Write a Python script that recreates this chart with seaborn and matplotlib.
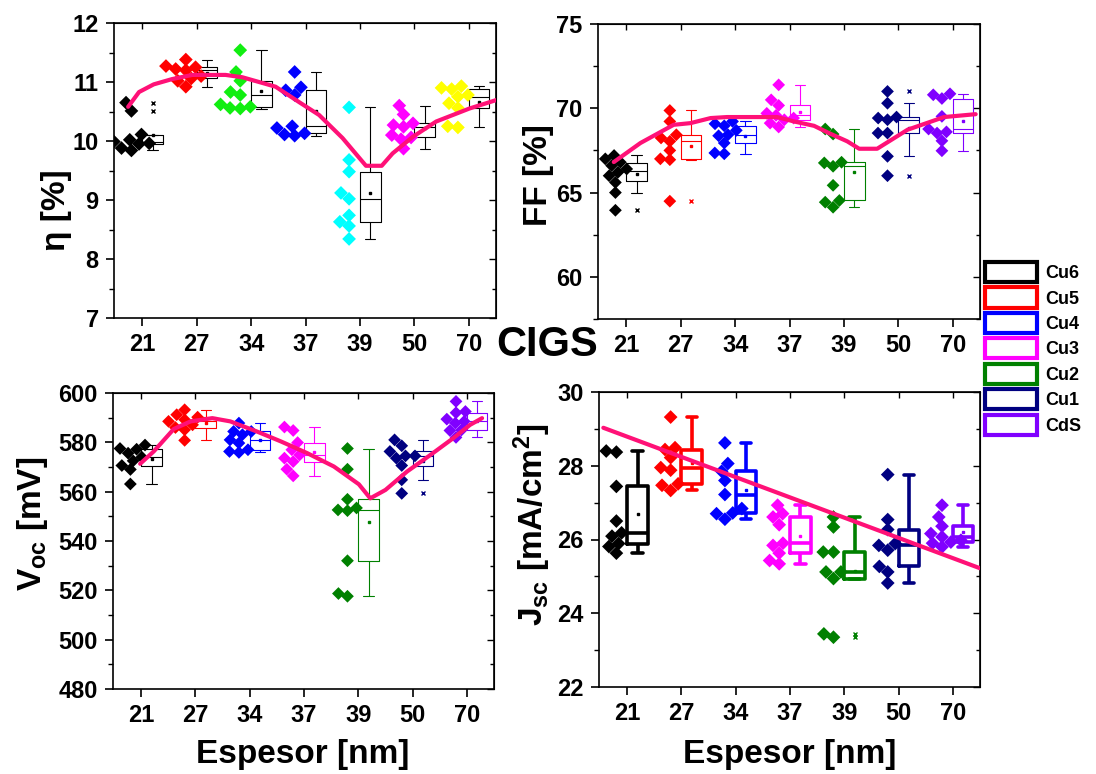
import matplotlib

matplotlib.use("Agg")
import matplotlib.pyplot as plt
import pandas as pd
import seaborn as sns
from matplotlib.patches import Patch
from matplotlib.ticker import MultipleLocator, NullFormatter

# ------------------------------------------------------------------ #
# Data
# ------------------------------------------------------------------ #
thickness = ["21", "27", "34", "37", "39", "50", "70"]
samples = ["Cu6", "Cu5", "Cu4", "Cu3", "Cu2", "Cu1", "CdS"]

sample_colors = ["#000000", "#FF0000", "#0000FF", "#FF00FF", "#008000", "#000080", "#8000FF"]
eta_colors = ["#000000", "#FF0000", "#11EE11", "#0000FF", "#00FFFF", "#FF00FF", "#FFFF00"]

eta = [
    [10.65, 10.51, 10.11, 10.02, 9.99, 9.96, 9.95, 9.88, 9.84],
    [11.38, 11.27, 11.25, 11.22, 11.20, 11.10, 11.06, 11.02, 10.92],
    [11.54, 11.17, 11.02, 10.83, 10.78, 10.62, 10.58, 10.56, 10.55],
    [11.17, 10.91, 10.86, 10.78, 10.25, 10.22, 10.13, 10.11, 10.09],
    [10.57, 9.68, 9.48, 9.12, 9.02, 8.74, 8.63, 8.56, 8.34],
    [10.60, 10.45, 10.30, 10.27, 10.24, 10.10, 10.06, 10.03, 9.87],
    [10.93, 10.90, 10.88, 10.78, 10.75, 10.64, 10.56, 10.25, 10.23],
]
ff = [
    [67.2, 67.0, 66.8, 66.6, 66.4, 66.2, 66.0, 65.6, 65.0, 63.95],
    [69.87, 69.22, 68.43, 68.24, 68.04, 67.5, 67.0, 66.95, 64.49],
    [69.22, 69.08, 68.96, 68.69, 68.43, 68.37, 67.94, 67.35, 67.3],
    [71.39, 70.5, 70.17, 69.7, 69.58, 69.42, 69.32, 69.12, 68.89],
    [68.77, 68.47, 66.8, 66.76, 66.56, 65.43, 64.53, 64.43, 64.13],
    [71.0, 70.3, 69.48, 69.42, 69.32, 68.53, 68.53, 67.15, 66.0],
    [70.86, 70.8, 70.58, 69.52, 68.77, 68.6, 68.53, 68.07, 67.48],
]
voc = [
    [578.9, 577.5, 577.2, 575.6, 574.0, 572.5, 570.6, 569.0, 563.1],
    [593.2, 591.2, 590.2, 589.2, 588.5, 587.1, 586.0, 585.1, 580.8],
    [587.8, 584.4, 584.4, 583.1, 581.0, 579.7, 577.0, 576.3, 575.9],
    [586.2, 584.8, 579.9, 577.0, 574.9, 573.6, 572.2, 569.1, 566.4],
    [577.5, 569.1, 556.9, 553.4, 552.6, 552.3, 532.0, 518.7, 517.6],
    [581.0, 578.6, 576.3, 574.5, 574.5, 573.6, 570.6, 564.8, 559.3],
    [596.6, 592.5, 592.0, 589.4, 588.5, 587.8, 585.0, 584.8, 582.0],
]
jsc = [
    [28.4, 28.37, 27.44, 26.5, 26.18, 26.09, 25.89, 25.81, 25.63],
    [29.32, 28.49, 28.44, 28.22, 27.95, 27.88, 27.51, 27.47, 27.33],
    [28.62, 28.06, 27.85, 27.6, 27.22, 26.84, 26.72, 26.7, 26.55],
    [26.93, 26.7, 26.61, 26.4, 25.9, 25.84, 25.63, 25.43, 25.34],
    [26.61, 26.34, 25.66, 25.66, 25.12, 25.12, 24.94, 23.44, 23.35],
    [27.76, 26.54, 26.27, 25.89, 25.84, 25.71, 25.27, 25.12, 24.82],
    [26.93, 26.61, 26.36, 26.16, 26.07, 25.98, 25.93, 25.9, 25.8],
]

# trend lines (x in category units)
eta_fit_x = [-0.26, -0.06, 0.21, 0.55, 0.92, 1.53, 1.84, 2.45, 2.88, 3.25, 3.68, 4.11, 4.40, 4.60, 4.97, 5.40, 6.01, 6.56]
eta_fit_y = [10.58, 10.83, 10.96, 11.05, 11.12, 11.12, 11.08, 10.92, 10.66, 10.44, 10.05, 9.58, 9.58, 9.79, 10.07, 10.33, 10.55, 10.71]
ff_fit_x = [-0.23, 0.26, 0.87, 1.18, 1.55, 1.85, 2.77, 3.08, 3.45, 3.75, 4.06, 4.28, 4.61, 5.17, 5.84, 6.42]
ff_fit_y = [66.81, 67.94, 69.02, 69.12, 69.42, 69.48, 69.48, 69.22, 68.96, 68.49, 68.04, 67.6, 67.6, 68.73, 69.48, 69.65]
voc_fit_x = [-0.02, 0.23, 0.6, 0.91, 1.31, 1.64, 2.13, 2.57, 3.06, 3.55, 4.01, 4.22, 4.5, 4.9, 5.33, 5.75, 6.06, 6.28]
voc_fit_y = [571.3, 576.3, 585.4, 588.5, 589.8, 588.5, 584.4, 580.4, 575.6, 570.2, 563.0, 557.3, 560.7, 568.2, 574.9, 581.7, 587.1, 589.8]
jsc_fit_x = [-0.44, 6.5]
jsc_fit_y = [29.03, 25.22]

PINK = "#FF1177"
DOT_SHIFT = -0.2
BOX_SHIFT = 0.19
W, H = 1096, 774

sns.set_style("ticks")
plt.rcParams["font.family"] = ["Liberation Sans", "DejaVu Sans"]
plt.rcParams["font.weight"] = "bold"
plt.rcParams["text.color"] = "black"
plt.rcParams["axes.labelcolor"] = "black"
plt.rcParams["axes.edgecolor"] = "black"
plt.rcParams["xtick.color"] = "black"
plt.rcParams["ytick.color"] = "black"
plt.rcParams["mathtext.fontset"] = "custom"
plt.rcParams["mathtext.rm"] = "Liberation Sans:bold"
plt.rcParams["mathtext.it"] = "Liberation Sans:bold"
plt.rcParams["mathtext.bf"] = "Liberation Sans:bold"


def add_axes_px(fig, left, top, right, bottom):
    return fig.add_axes([left / W, 1 - bottom / H, (right - left) / W, (bottom - top) / H])


def draw_panel(ax, values, dot_colors, box_colors, fit_x, fit_y, ylim, major, minor,
               box_lw=0.8, dot_size=6.5):
    rows = [(i + DOT_SHIFT, i + BOX_SHIFT, samples[i], v)
            for i, grp in enumerate(values) for v in grp]
    df = pd.DataFrame(rows, columns=["dot_x", "box_x", "sample", "value"])

    sns.swarmplot(data=df, x="dot_x", y="value", hue="sample", hue_order=samples,
                  palette=dict(zip(samples, dot_colors)), native_scale=True,
                  marker="D", size=dot_size, linewidth=0, legend=False, ax=ax)
    for i, name in enumerate(samples):
        c = box_colors[i]
        sns.boxplot(data=df[df["sample"] == name], x="box_x", y="value", native_scale=True,
                    width=0.38, color=c, fill=False, linewidth=box_lw, showmeans=True,
                    meanprops=dict(marker="s", markersize=2, markerfacecolor=c, markeredgecolor=c),
                    flierprops=dict(marker="x", markersize=3, markeredgecolor=c),
                    ax=ax)
    sns.lineplot(x=fit_x, y=fit_y, color=PINK, linewidth=3, ax=ax, zorder=5)

    ax.set_xlim(-0.52, 6.5)
    ax.set_ylim(*ylim)
    ax.set_xticks(range(len(thickness)), labels=thickness)
    ax.yaxis.set_major_locator(MultipleLocator(major))
    ax.yaxis.set_minor_locator(MultipleLocator(minor))
    ax.set_xlabel("")
    ax.set_ylabel("")
    ax.tick_params(which="major", direction="out", length=6, width=1.2, labelsize=17, pad=5)
    ax.tick_params(which="minor", direction="out", length=3.5, width=1)
    ax.tick_params(axis="x", which="minor", bottom=False)
    for sp in ax.spines.values():
        sp.set_visible(True)
        sp.set_linewidth(1.2)

    top = ax.secondary_xaxis("top")
    top.set_xticks(range(len(thickness)), labels=[])
    top.tick_params(direction="in", length=4, width=1)
    right = ax.secondary_yaxis("right")
    right.yaxis.set_major_locator(MultipleLocator(major))
    right.yaxis.set_minor_locator(MultipleLocator(minor))
    right.yaxis.set_major_formatter(NullFormatter())
    right.tick_params(which="major", direction="in", length=5, width=1)
    right.tick_params(which="minor", direction="in", length=3, width=1)


fig = plt.figure(figsize=(W / 100, H / 100), dpi=100)
fig.patch.set_facecolor("white")

ax_eta = add_axes_px(fig, 114, 23, 496, 318)
ax_ff = add_axes_px(fig, 598, 24, 980, 319)
ax_voc = add_axes_px(fig, 113, 393, 494, 689)
ax_jsc = add_axes_px(fig, 599, 392, 980, 687)

draw_panel(ax_eta, eta, eta_colors, ["#000000"] * 7, eta_fit_x, eta_fit_y, (7, 12), 1, 0.5, dot_size=7)
draw_panel(ax_ff, ff, sample_colors, sample_colors, ff_fit_x, ff_fit_y, (57.5, 75), 5, 2.5)
draw_panel(ax_voc, voc, sample_colors, sample_colors, voc_fit_x, voc_fit_y, (480, 600), 20, 10)
draw_panel(ax_jsc, jsc, sample_colors, sample_colors, jsc_fit_x, jsc_fit_y, (22, 30), 2, 1,
           box_lw=2.6, dot_size=7)

label_kw = dict(rotation=90, ha="center", va="center", fontsize=24, fontweight="bold")
fig.text(56 / W, 1 - 210 / H, "η [%]", **label_kw)
fig.text(538 / W, 1 - 175 / H, "FF [%]", **label_kw)
fig.text(33 / W, 1 - 524 / H, r"V$_{oc}$ [mV]", **label_kw)
fig.text(532 / W, 1 - 525 / H, r"J$_{sc}$ [mA/cm$^{2}$]", **label_kw)

for x_center in (303, 790):
    fig.text(x_center / W, 1 - 755 / H, "Espesor [nm]", ha="center", va="center",
             fontsize=24, fontweight="bold")

fig.text(547 / W, 1 - 345 / H, "CIGS", ha="center", va="center", fontsize=30, fontweight="bold")

handles = [Patch(facecolor="white", edgecolor=c, linewidth=3, label=s)
           for s, c in zip(samples, sample_colors)]
fig.legend(handles=handles, loc="upper left", bbox_to_anchor=(985 / W, 1 - 262 / H),
           frameon=False, prop=dict(weight="bold", size=13), handlelength=2.9,
           handleheight=1.33, labelspacing=0.3, handletextpad=0.45,
           borderpad=0, borderaxespad=0)

fig.savefig("out.png", dpi=100, facecolor="white")
